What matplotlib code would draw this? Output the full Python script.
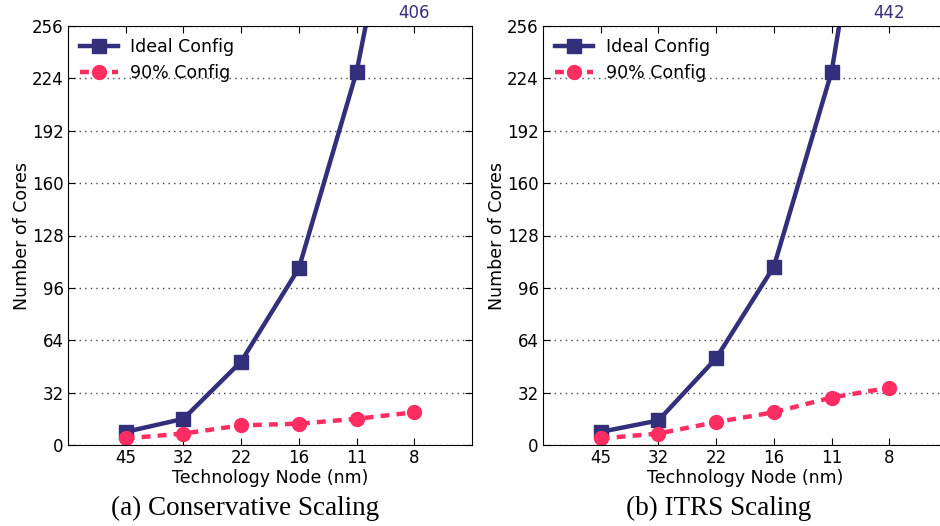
import matplotlib
matplotlib.use("Agg")
import matplotlib.pyplot as plt

nodes = ["45", "32", "22", "16", "11", "8"]
ideal_cons = [8, 16, 51, 108, 228, 406]
p90_cons = [4, 7, 12, 13, 16, 20]
ideal_itrs = [8, 15, 53, 109, 228, 442]
p90_itrs = [4, 7, 14, 20, 29, 35]
captions = ["(a) Conservative Scaling", "(b) ITRS Scaling"]

blue = "#332f7b"
pink = "#ff2d62"

fig = plt.figure(figsize=(9.4, 5.26), dpi=100)
lefts = [68/940, 543/940]
cap_x = [245/940, 719/940]
w = 404/940
bot = 81/526
h = 419/526

panels = [(ideal_cons, p90_cons), (ideal_itrs, p90_itrs)]
for i, (ideal, p90) in enumerate(panels):
    ax = fig.add_axes([lefts[i], bot, w, h])
    x = list(range(len(nodes)))
    ax.plot(x, ideal, color=blue, lw=3.2, marker="s", ms=10, mec=blue, label="Ideal Config")
    ax.plot(x, p90, color=pink, lw=3.2, ls=(0, (2, 1.6)), marker="o", ms=10, mec=pink,
            label="90% Config")
    ax.set_xlim(-1, 6)
    ax.set_ylim(0, 256)
    ax.set_xticks(x)
    ax.set_xticklabels(nodes)
    ax.set_yticks(range(0, 257, 32))
    ax.yaxis.grid(True, ls=(0, (1, 3)), color="#444444", lw=1)
    ax.tick_params(direction="in", top=True, right=True, labelsize=12, length=5, pad=3)
    ax.set_xlabel("Technology Node (nm)", fontsize=12.5, labelpad=1)
    ax.set_ylabel("Number of Cores", fontsize=12.5, labelpad=1)
    ax.annotate(str(ideal[-1]), xy=(5, 256), xytext=(0, 3), textcoords="offset points",
                ha="center", va="bottom", color=blue, fontsize=12, annotation_clip=False)
    ax.legend(loc="upper left", frameon=False, fontsize=12.5, handlelength=2.2,
              handletextpad=0.7, borderaxespad=0.3, labelspacing=0.45, numpoints=1)
    fig.text(cap_x[i], 0.034, captions[i], ha="center", va="center",
             fontsize=19.5, family="Liberation Serif")

fig.savefig("out.png", dpi=100)
